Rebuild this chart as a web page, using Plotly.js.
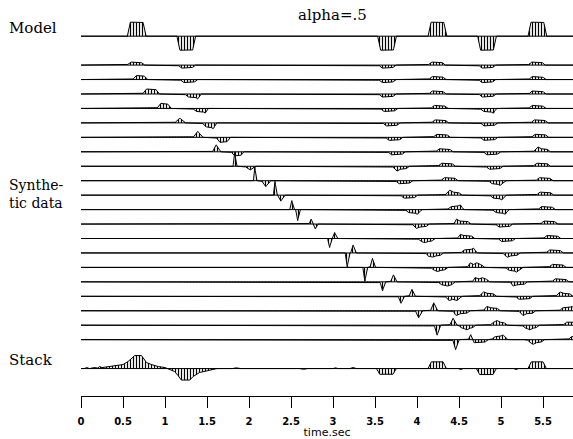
<!DOCTYPE html>
<html><head><meta charset="utf-8">
<script src="https://cdn.plot.ly/plotly-3.0.1.min.js"></script>
<style>html,body{margin:0;padding:0;background:#fff}#chart{width:573px;height:439px}</style>
</head><body><div id="chart"></div>
<script>
// ---------------- DATA ----------------
// amplitudes are deflections in pixels of the original picture
const tickVals   = [0,0.5,1,1.5,2,2.5,3,3.5,4,4.5,5,5.5];
const tickLabels = ['0','0.5','1','1.5','2','2.5','3','3.5','4','4.5','5','5.5'];

// Model: six boxcar events
const modelTime = [0.66, 1.25, 3.64, 4.24, 4.83, 5.43];
const modelAmp  = [14, -14, -14, 14, -14, 14];

// Synthetic data: 20 traces. Two strongly moving events (P0 positive, N0 negative)
const p0Time  = [0.65,0.70,0.83,0.985,1.175,1.39,1.61,1.83,2.07,2.31,2.51,2.74,3.02,3.24,3.47,3.72,3.94,4.20,4.43,4.64];
const p0Amp   = [3,4,5,5,5,6,7,14,14,14,9,5,6,8,9,7,7,8,7,5];
const p0Width = [0.20,0.17,0.19,0.16,0.12,0.11,0.09,0.04,0.035,0.04,0.05,0.05,0.06,0.06,0.06,0.07,0.07,0.08,0.08,0.06];
const n0Time  = [1.255,1.28,1.33,1.42,1.53,1.69,1.86,2.01,2.20,2.38,2.58,2.79,2.96,3.17,3.38,3.59,3.81,4.02,4.24,4.46];
const n0Amp   = [-3,-3,-3,-3,-4,-5,-4,-4,-6,-6,-11,-5,-9,-14,-14,-9,-7,-7,-10,-10];
const n0Width = [0.20,0.20,0.19,0.18,0.17,0.16,0.15,0.12,0.10,0.08,0.05,0.05,0.05,0.05,0.05,0.06,0.07,0.08,0.07,0.07];
// four slowly moving events
const n1Time = [3.643,3.643,3.643,3.663,3.691,3.723,3.754,3.802,3.842,3.901,3.957,4.040,4.108,4.207,4.262,4.350,4.433,4.524,4.592,4.74];
const p1Time = [4.231,4.238,4.238,4.262,4.270,4.290,4.322,4.350,4.381,4.429,4.461,4.536,4.580,4.619,4.699,4.758,4.838,4.885,4.969,4.985];
const n2Time = [4.830,4.830,4.834,4.850,4.854,4.854,4.889,4.917,4.949,4.965,4.996,5.032,5.064,5.119,5.151,5.207,5.270,5.306,5.350,5.409];
const p2Time = [5.421,5.429,5.429,5.429,5.453,5.461,5.481,5.481,5.512,5.520,5.540,5.568,5.604,5.635,5.667,5.702,5.750,5.794,5.838,5.897];
const smallAmp = [-3, 3, -3, 3];   // N1, P1, N2, P2
// extra small peaks / dips riding on the events
const extraTrace = [2,3,3,4,6,7,8,9,9,10,10,10,11,11,12,12,13,13,13,13,14,14,14,14,15,15,15,15,16,16,16,16,17,17,17,17,18,18,18,19,19];
const extraTime  = [1.39,1.48,4.905,1.57,5.44,3.76,4.985,4.39,5.005,4.0,4.51,5.044,3.99,4.47,4.09,4.51,4.13,4.18,4.67,5.07,4.24,4.63,4.71,5.18,4.36,4.69,4.77,5.14,4.38,4.47,4.79,5.70,4.47,4.83,5.26,5.84,4.59,4.95,5.34,5.02,5.38];
const extraAmp   = [-2,-2,-2,-2,2,-2,-2,2,-2,-2,2,-2,-1.5,2,-1.5,1.5,-1.5,-1.5,2,-1.5,-1.5,2,2,-2,-1.5,1.5,1.5,-1.5,-1.5,-1.5,1.5,1.5,-2,1.5,-2,1.5,-2,2,-2,2,-2];

// Stack trace (time, deflection)
const stackT = [0,0.04,0.07,0.10,0.13,0.16,0.20,0.22,0.25,0.30,0.34,0.38,0.44,0.50,0.56,0.62,0.64,0.72,0.76,0.78,0.84,0.92,1.00,1.03,1.05,1.115,1.155,1.195,1.295,1.335,1.41,1.51,1.57,1.62,1.80,1.85,1.90,2.20,2.24,2.28,2.60,2.65,2.70,3.00,3.03,3.06,3.20,3.24,3.28,3.517,3.557,3.714,3.754,3.90,4.131,4.171,4.31,4.35,4.49,4.52,4.55,4.707,4.746,4.905,4.944,5.15,5.18,5.21,5.321,5.361,5.50,5.54,5.70,5.75,5.86];
const stackA = [0,0,1,0,0.5,1,0.5,2,1,1.5,2,3,3,4,7,12,13,13,8,6,4,2,1,0,-1,-3,-7,-11.5,-11.5,-8,-4,-2,-1,0,0,0.7,0,0,0.7,0,0,-0.7,0,0,0.7,0,0,1,0,0,-5.7,-5.7,0,0,0,6.7,6.7,0,0,-1,0,0,-6,-6,0,0,-1,0,0,6.7,6.7,0,0,0.7,0];

// ---------------- BUILD ----------------
const PX_PER_UNIT = 14.45;           // one trace spacing in pixels
const T_END = 5.86, DT = 0.0025;
const grid = [];
for (let k = 0; k <= Math.round(T_END / DT); k++) grid.push(+(k * DT).toFixed(5));

function trap(t, c, a, w, r) {
  const h = w / 2, d = Math.abs(t - c);
  if (d >= h) return 0;
  if (d <= h - r) return a;
  return a * (h - d) / r;
}
function rampFor(w) { return w >= 0.15 ? 0.035 : w / 2; }

const traces = [];
const pattern = {shape: '|', size: 3, solidity: 0.4, fgcolor: '#000', bgcolor: 'rgba(0,0,0,0)'};
function addRow(offset, xs, ys) {
  traces.push({x: [0, T_END], y: [offset, offset], mode: 'lines', line: {color: '#000', width: 1}, hoverinfo: 'skip'});
  traces.push({x: xs, y: ys.map(v => offset + v / PX_PER_UNIT), mode: 'lines',
    line: {color: '#000', width: 1}, fill: 'tonexty', fillcolor: 'rgba(0,0,0,0)', fillpattern: pattern, hoverinfo: 'skip'});
}

// model
addRow(23, grid, grid.map(t => modelTime.reduce((s, c, i) => s + trap(t, c, modelAmp[i], 0.215, 0.028), 0)));

// synthetic
for (let i = 0; i < 20; i++) {
  const ys = grid.map(t => {
    let v = trap(t, p0Time[i], p0Amp[i], p0Width[i], rampFor(p0Width[i]));
    v += trap(t, n0Time[i], n0Amp[i], n0Width[i], rampFor(n0Width[i]));
    [n1Time, p1Time, n2Time, p2Time].forEach((arr, j) => { v += trap(t, arr[i], smallAmp[j], 0.195, 0.032); });
    for (let e = 0; e < extraTrace.length; e++) if (extraTrace[e] === i) v += trap(t, extraTime[e], extraAmp[e], 0.06, 0.03);
    return v;
  });
  addRow(21 - i, grid, ys);
}

// stack
addRow(0, stackT, stackA);

const L = 81, PW = 492, PH = 396;
const px = x => (x - L) / PW, py = y => (PH - y) / PH;
const serif = {family: 'DejaVu Serif', size: 15, color: '#000'};
const layout = {
  width: 573, height: 439,
  margin: {l: L, r: 0, t: 0, b: 43, pad: 0},
  paper_bgcolor: '#fff', plot_bgcolor: '#fff',
  showlegend: false,
  xaxis: {range: [0, PW / 84], tickvals: tickVals, ticktext: tickLabels,
    ticks: 'outside', ticklen: 11, tickwidth: 1, tickcolor: '#000', ticklabelstandoff: 5,
    showline: true, linecolor: '#000', linewidth: 1, showgrid: false, zeroline: false,
    tickfont: {family: 'DejaVu Sans', size: 10, weight: 'bold', color: '#000'},
    title: {text: 'time.sec', font: {family: 'DejaVu Sans', size: 11, color: '#000'}, standoff: 6}},
  yaxis: {range: [-1.9, -1.9 + PH / PX_PER_UNIT], visible: false, fixedrange: true},
  annotations: [
    {text: 'alpha=.5', xref: 'paper', yref: 'paper', x: px(332), y: py(15), xanchor: 'center', yanchor: 'middle', showarrow: false, font: {family: 'DejaVu Serif', size: 15, color: '#000'}},
    {text: 'Model', xref: 'paper', yref: 'paper', x: px(7), y: py(28), xanchor: 'left', yanchor: 'middle', showarrow: false, font: serif},
    {text: 'Synthe-<br>tic data', xref: 'paper', yref: 'paper', x: px(7), y: py(194), xanchor: 'left', yanchor: 'middle', align: 'left', showarrow: false, font: {family: 'DejaVu Serif', size: 14, color: '#000'}},
    {text: 'Stack', xref: 'paper', yref: 'paper', x: px(7), y: py(360), xanchor: 'left', yanchor: 'middle', showarrow: false, font: serif}
  ]
};
Plotly.newPlot('chart', traces, layout, {staticPlot: true, displayModeBar: false});
</script></body></html>
